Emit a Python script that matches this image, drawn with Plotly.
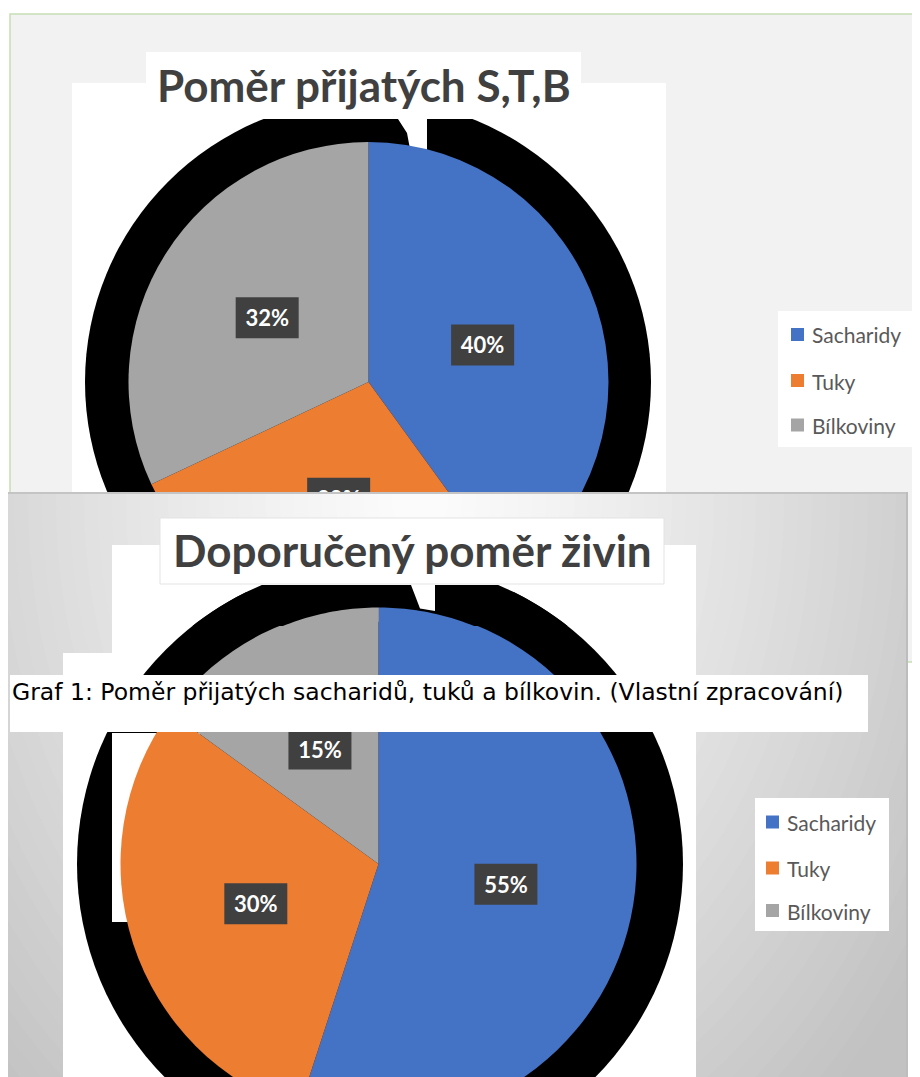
import numpy as np
import plotly.graph_objects as go

# ---------------- data ----------------
categories = ["Sacharidy", "Tuky", "Bílkoviny"]
intake_values = [40, 28, 32]          # Poměr přijatých S,T,B (%)
recommended_values = [55, 30, 15]     # Doporučený poměr živin (%)
slice_colors = ["#4472C4", "#ED7D31", "#A5A5A5"]
title_intake = "Poměr přijatých S,T,B"
title_recommended = "Doporučený poměr živin"
caption_text = "Graf 1: Poměr přijatých sacharidů, tuků a bílkovin. (Vlastní zpracování)"

# ---------------- layout geometry (screen pixels) ----------------
W, H = 920, 1125
OX, OY = 8, 8                        # page offset of the plot div
C1, R1 = (368.5, 382.0), 240.0      # chart 1 pie
C2, R2 = (378.5, 864.0), 258.0      # chart 2 pie
B1, RB1 = (368.0, 382.0), 283.0     # chart 1 black halo
B2, RB2 = (380.0, 864.0), 303.0     # chart 2 black halo
GX, GY, GRX, GRY = 420.0, 500.0, 560.0, 750.0   # chart 2 background gradient


def px(x):
    return (x - OX) / W


def py(y):
    return 1 - (y - OY) / H


def ppath(pts):
    return "M " + " L ".join(f"{px(x):.5f},{py(y):.5f}" for x, y in pts) + " Z"


def dpath(pts):
    return "M " + " L ".join(f"{x:.2f},{y:.2f}" for x, y in pts) + " Z"


def label_centers(values, c, r):
    tot = float(sum(values))
    out, cum = [], 0.0
    for v in values:
        mid = (cum + v / 2.0) / tot * 2 * np.pi
        out.append((c[0] + 0.5 * r * np.sin(mid), c[1] - 0.5 * r * np.cos(mid)))
        cum += v
    return out


def pct_texts(values):
    tot = float(sum(values))
    return [f"{round(v / tot * 100)}%" for v in values]


def grad_color(d):
    v = int(round(max(194, 252 - 52 * d ** 1.25)))
    return f"rgb({v},{v},{v})"


shapes = []
NOLINE = dict(width=0)


def prect(x0, y0, x1, y1, fill, layer="below", line=None, label=None):
    s = dict(type="rect", xref="paper", yref="paper", x0=px(x0), x1=px(x1),
             y0=py(y1), y1=py(y0), fillcolor=fill, line=line or NOLINE, layer=layer)
    if label:
        s["label"] = label
    shapes.append(s)


def drect(x0, y0, x1, y1, fill, xr="x", yr="y", layer="below", line=None, label=None):
    s = dict(type="rect", xref=xr, yref=yr, x0=x0, x1=x1, y0=y0, y1=y1,
             fillcolor=fill, line=line or NOLINE, layer=layer)
    if label:
        s["label"] = label
    shapes.append(s)


def gradient(xr, yr, layer):
    for d in np.arange(1.5, 0.0, -0.025):
        shapes.append(dict(type="circle", xref=xr, yref=yr, layer=layer,
                           x0=GX - GRX * d, x1=GX + GRX * d, y0=GY - GRY * d, y1=GY + GRY * d,
                           fillcolor=grad_color(d), line=NOLINE))


def label_font():
    return dict(family="Lato", size=22, color="white")


# ---------------- chart 1 (lower paper layer) ----------------
prect(10, 14, 960, 662, "#f2f2f2", line=dict(color="#c5e0b4", width=1.5))
prect(72, 83, 666, 720, "#ffffff")
prect(146, 52, 581, 84, "#ffffff")
shapes.append(dict(type="circle", xref="paper", yref="paper", layer="below",
                   x0=px(B1[0] - RB1), x1=px(B1[0] + RB1), y0=py(B1[1] + RB1), y1=py(B1[1] - RB1),
                   fillcolor="#000000", line=NOLINE))
prect(72, 83, 666, 119, "#ffffff")
shapes.append(dict(type="path", xref="paper", yref="paper", layer="below",
                   path=ppath([(398, 119), (427, 119), (427, 165), (413, 165), (407, 133)]),
                   fillcolor="#ffffff", line=NOLINE))
# chart 1 legend
prect(778, 311, 915, 447, "#ffffff")
leg1_y = [334.5, 380.5, 425.0]
for yc, col in zip(leg1_y, slice_colors):
    prect(791, yc - 6.5, 804, yc + 6.5, col)

# ---------------- chart 2 (subplot xy, lower) ----------------
gradient("x", "y", "below")
drect(4, 492, 908, 494, "#c4c4c4")
drect(906, 492, 908, H + OY, "#bdbdbd")
drect(112, 545, 696, H + OY, "#ffffff")
drect(63, 653, 696, H + OY, "#ffffff")
shapes.append(dict(type="circle", xref="x", yref="y", layer="below",
                   x0=B2[0] - RB2, x1=B2[0] + RB2, y0=B2[1] - RB2, y1=B2[1] + RB2,
                   fillcolor="#000000", line=NOLINE))
notch2 = [(411, 585), (435, 585), (435, 611), (420, 608.5), (416, 598)]
shapes.append(dict(type="path", xref="x", yref="y", layer="below", path=dpath(notch2),
                   fillcolor="#ffffff", line=NOLINE))
drect(112, 733, 200, 922, "#ffffff")

# ---------------- upper layer ----------------
# chart 1 data labels
for (cx, cy), t in zip(label_centers(intake_values, C1, R1), pct_texts(intake_values)):
    prect(cx - 31.5, cy - 20.5, cx + 31.5, cy + 20.5, "#404040", layer="above",
          label=dict(text=f"<b>{t}</b>", font=label_font(), textposition="middle center"))

# chart 2 cover over the lower part of chart 1 pie
gradient("x2", "y2", "above")
drect(4, 492, 908, 494, "#c4c4c4", xr="x2", yr="y2", layer="above")
drect(112, 545, 696, 700, "#ffffff", xr="x2", yr="y2", layer="above")
ytop, ybot = 585.0, 626.0
ys = np.linspace(ytop, ybot, 14)
right_outer = [(B2[0] + np.sqrt(RB2 ** 2 - (B2[1] - y) ** 2), y) for y in ys]
left_outer = [(B2[0] - np.sqrt(RB2 ** 2 - (B2[1] - y) ** 2), y) for y in ys[::-1]]
ri = R2 - 1.5
a0 = np.arccos((C2[1] - ybot) / ri)
inner = [(C2[0] + ri * np.sin(a), C2[1] - ri * np.cos(a)) for a in np.linspace(a0, -a0, 50)]
shapes.append(dict(type="path", xref="x", yref="y", layer="above",
                   path=dpath(right_outer + inner + left_outer), fillcolor="#000000", line=NOLINE))
shapes.append(dict(type="path", xref="x", yref="y", layer="above", path=dpath(notch2),
                   fillcolor="#ffffff", line=NOLINE))

# chart 2 title box
drect(160, 518, 664, 584, "#ffffff", layer="above", line=dict(color="#e3e3e3", width=1))

# chart 2 data labels
for (cx, cy), t in zip(label_centers(recommended_values, C2, R2), pct_texts(recommended_values)):
    drect(cx - 31.5, cy - 20.5, cx + 31.5, cy + 20.5, "#404040", layer="above",
          label=dict(text=f"<b>{t}</b>", font=label_font(), textposition="middle center"))
# caption box
drect(10, 675, 868, 732, "#ffffff", layer="above")

# chart 2 legend
drect(755, 798, 889, 931, "#ffffff", layer="above")
leg2_y = [822.0, 868.0, 910.5]
for yc, col in zip(leg2_y, slice_colors):
    drect(766, yc - 6.5, 779, yc + 6.5, col, layer="above")

# ---------------- figure ----------------
fig = go.Figure()
fig.add_trace(go.Pie(
    labels=categories, values=intake_values, sort=False, direction="clockwise", rotation=0,
    marker=dict(colors=slice_colors, line=dict(width=0)), textinfo="none", showlegend=False,
    domain=dict(x=[px(C1[0] - R1), px(C1[0] + R1)], y=[py(C1[1] + R1), py(C1[1] - R1)]),
))
fig.add_trace(go.Pie(
    labels=categories, values=recommended_values, sort=False, direction="clockwise", rotation=0,
    marker=dict(colors=slice_colors, line=dict(width=0)), textinfo="none", showlegend=False,
    domain=dict(x=[px(C2[0] - R2), px(C2[0] + R2)], y=[max(0, py(C2[1] + R2)), py(C2[1] - R2)]),
))

annotations = []


def ann(text, x, y, size, family="Lato", color="#404040", xanchor="center", bold=False):
    annotations.append(dict(text=text, x=px(x), y=py(y), xref="paper", yref="paper",
                            xanchor=xanchor, yanchor="middle", showarrow=False,
                            font=dict(family=family, size=size, color=color,
                                      weight="bold" if bold else "normal")))


ann(title_intake, 363.5, 85.0, 44, bold=True)
ann(title_recommended, 412.0, 550.0, 44, bold=True)
ann(caption_text, 10.0, 692.0, 23.5, family="DejaVu Sans", color="#000000", xanchor="left")
for yc, name in zip(leg1_y, categories):
    ann(name, 810.0, yc + 0.5, 21, color="#595959", xanchor="left")
for yc, name in zip(leg2_y, categories):
    ann(name, 785.0, yc + 0.5, 21, color="#595959", xanchor="left")

fig.update_layout(
    width=W, height=H, margin=dict(l=0, r=0, t=0, b=0, pad=0),
    paper_bgcolor="#ffffff", plot_bgcolor="rgba(0,0,0,0)", showlegend=False,
    shapes=shapes, annotations=annotations,
    xaxis=dict(domain=[0, px(908)], range=[OX, 908], visible=False, fixedrange=True, anchor="y"),
    yaxis=dict(domain=[0, py(492)], range=[H + OY, 492], visible=False, fixedrange=True, anchor="x"),
    xaxis2=dict(domain=[px(140), px(600)], range=[140, 600], visible=False, fixedrange=True, anchor="y2"),
    yaxis2=dict(domain=[py(592), py(492)], range=[592, 492], visible=False, fixedrange=True, anchor="x2"),
)

fig.write_html("out.html")
